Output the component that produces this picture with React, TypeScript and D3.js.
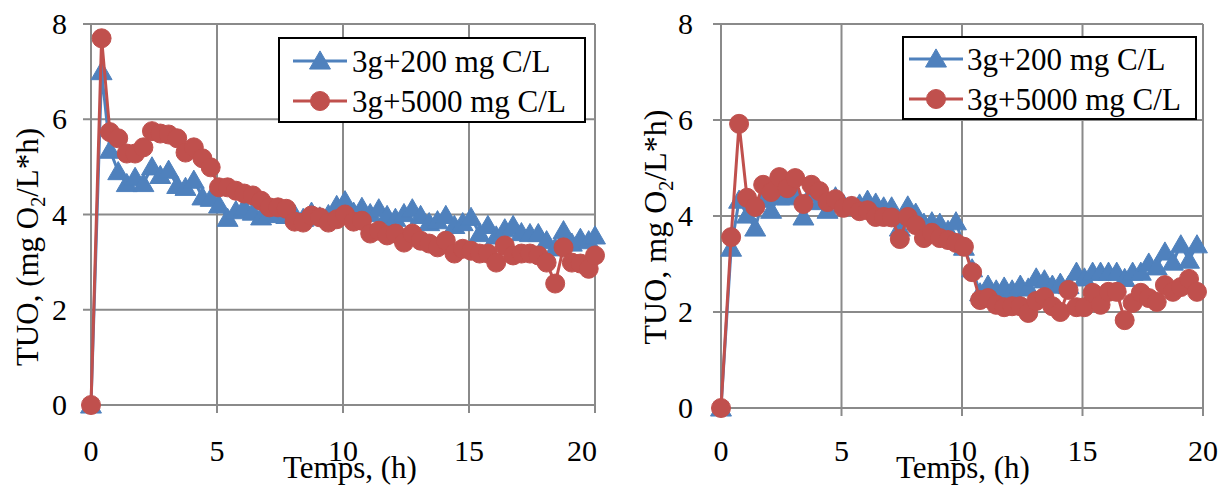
import React from "react";
import * as d3 from "d3";

// ---- Data ----
const seriesNames = ["3g+200 mg C/L", "3g+5000 mg C/L"];
const xTicks = [0, 5, 10, 15, 20];
const yTicks = [0, 2, 4, 6, 8];

const hoursLeft = [0, 0.42, 0.75, 1.08, 1.42, 1.75, 2.08, 2.42, 2.75, 3.08, 3.42, 3.75, 4.08, 4.42, 4.75, 5.08, 5.42, 5.75, 6.08, 6.42, 6.75, 7.08, 7.42, 7.75, 8.08, 8.42, 8.75, 9.08, 9.42, 9.75, 10.08, 10.42, 10.75, 11.08, 11.42, 11.75, 12.08, 12.42, 12.75, 13.08, 13.42, 13.75, 14.08, 14.42, 14.75, 15.08, 15.42, 15.75, 16.08, 16.42, 16.75, 17.08, 17.42, 17.75, 18.08, 18.42, 18.75, 19.08, 19.42, 19.75, 20.0];
const left200 = [0, 7.0, 5.35, 4.9, 4.65, 4.78, 4.65, 5.0, 4.82, 4.93, 4.61, 4.57, 4.72, 4.37, 4.34, 4.2, 3.92, 4.08, 4.15, 4.05, 3.95, 4.05, 4.0, 3.98, 4.0, 3.92, 4.05, 3.95, 4.0, 4.19, 4.29, 4.05, 4.15, 4.02, 4.12, 3.98, 3.92, 4.02, 4.12, 3.98, 3.83, 3.87, 3.98, 3.77, 3.83, 3.94, 3.6, 3.77, 3.55, 3.7, 3.77, 3.62, 3.6, 3.6, 3.45, 3.3, 3.66, 3.4, 3.5, 3.45, 3.55];
const left5000 = [0, 7.7, 5.73, 5.6, 5.28, 5.28, 5.41, 5.75, 5.7, 5.68, 5.6, 5.3, 5.41, 5.18, 4.99, 4.57, 4.57, 4.5, 4.44, 4.4, 4.29, 4.15, 4.15, 4.12, 3.85, 3.83, 3.98, 3.94, 3.83, 3.9, 4.0, 3.85, 3.87, 3.6, 3.66, 3.56, 3.6, 3.41, 3.6, 3.45, 3.39, 3.31, 3.45, 3.18, 3.28, 3.24, 3.18, 3.18, 2.99, 3.35, 3.14, 3.18, 3.18, 3.14, 2.99, 2.55, 3.31, 2.99, 2.97, 2.86, 3.14];

const hoursRight = [0, 0.42, 0.75, 1.08, 1.42, 1.75, 2.08, 2.42, 2.75, 3.08, 3.42, 3.75, 4.08, 4.42, 4.75, 5.08, 5.42, 5.75, 6.08, 6.42, 6.75, 7.08, 7.42, 7.75, 8.08, 8.42, 8.75, 9.08, 9.42, 9.75, 10.08, 10.42, 10.75, 11.08, 11.42, 11.75, 12.08, 12.42, 12.75, 13.08, 13.42, 13.75, 14.08, 14.42, 14.75, 15.08, 15.42, 15.75, 16.08, 16.42, 16.75, 17.08, 17.42, 17.75, 18.08, 18.42, 18.75, 19.08, 19.42, 19.75];
const right200 = [0, 3.33, 4.33, 4.02, 3.75, 4.35, 4.12, 4.4, 4.4, 4.45, 3.98, 4.48, 4.3, 4.12, 4.4, 4.25, 4.2, 4.25, 4.33, 4.27, 4.19, 4.19, 3.75, 4.21, 4.06, 3.85, 3.88, 3.85, 3.7, 3.88, 3.35, 2.9, 2.4, 2.56, 2.46, 2.52, 2.46, 2.56, 2.5, 2.71, 2.67, 2.56, 2.6, 2.55, 2.83, 2.71, 2.83, 2.83, 2.83, 2.83, 2.7, 2.83, 2.83, 3.02, 2.94, 3.25, 3.04, 3.4, 3.08, 3.4];
const right5000 = [0, 3.56, 5.92, 4.38, 4.19, 4.65, 4.5, 4.81, 4.58, 4.79, 4.25, 4.65, 4.52, 4.29, 4.35, 4.17, 4.21, 4.1, 4.12, 3.98, 3.98, 3.97, 3.52, 3.98, 3.81, 3.54, 3.65, 3.54, 3.5, 3.44, 3.36, 2.83, 2.25, 2.29, 2.15, 2.1, 2.12, 2.12, 1.98, 2.23, 2.31, 2.12, 2.0, 2.46, 2.1, 2.1, 2.4, 2.15, 2.42, 2.42, 1.83, 2.19, 2.4, 2.29, 2.21, 2.56, 2.42, 2.52, 2.69, 2.42];

// ---- Styles ----
const BLUE = "#4F81BD";
const RED = "#C0504D";
const GRID = "#8a8a8a";
const FONT = "'Liberation Serif', 'Times New Roman', serif";

type ChartProps = {
  x0: number; x1: number; y0: number; y1: number;
  hours: number[]; s200: number[]; s5000: number[];
  legend: { x: number; y: number; w: number; h: number; row1: number; row2: number; lx0: number; lx1: number; tx: number };
  yTitle: { pre: string; x: number; y: number; size: number };
  xTitle: { x: number; y: number };
  yLabelEnd: number;
  xLabelMaxRight: number;
};

const triangle = d3.symbol().type(d3.symbolTriangle).size(190);

function Chart(p: ChartProps) {
  const x = d3.scaleLinear().domain([0, 20]).range([p.x0, p.x1]);
  const y = d3.scaleLinear().domain([0, 8]).range([p.y0, p.y1]);
  const line = d3.line<[number, number]>().x(d => x(d[0])).y(d => y(d[1]));
  const d200: [number, number][] = p.hours.map((h, i) => [h, p.s200[i]]);
  const d5000: [number, number][] = p.hours.map((h, i) => [h, p.s5000[i]]);
  const L = p.legend;
  return (
    <g>
      {/* gridlines */}
      {yTicks.filter(t => t > 0).map(t => (
        <line key={"hy" + t} x1={x(0)} x2={x(20)} y1={y(t)} y2={y(t)} stroke={GRID} strokeWidth={2} />
      ))}
      {xTicks.filter(t => t > 0).map(t => (
        <line key={"vx" + t} x1={x(t)} x2={x(t)} y1={y(0)} y2={y(8)} stroke={GRID} strokeWidth={2} />
      ))}
      {/* axes */}
      <line x1={x(0)} x2={x(0)} y1={y(0)} y2={y(8)} stroke={GRID} strokeWidth={2} />
      <line x1={x(0)} x2={x(20)} y1={y(0)} y2={y(0)} stroke={GRID} strokeWidth={2} />
      {yTicks.map(t => (
        <line key={"ty" + t} x1={x(0) - 8} x2={x(0)} y1={y(t)} y2={y(t)} stroke={GRID} strokeWidth={2} />
      ))}
      {xTicks.map(t => (
        <line key={"tx" + t} x1={x(t)} x2={x(t)} y1={y(0)} y2={y(0) + 8} stroke={GRID} strokeWidth={2} />
      ))}
      {/* tick labels */}
      {yTicks.map(t => (
        <text key={"ly" + t} x={p.yLabelEnd} y={y(t) + 10} textAnchor="end" fontFamily={FONT} fontSize={30} fill="#000">{t}</text>
      ))}
      {xTicks.map(t => {
        const half = String(t).length * 7.5;
        const cx = Math.min(x(t), p.xLabelMaxRight - half);
        return (
          <text key={"lx" + t} x={cx} y={461} textAnchor="middle" fontFamily={FONT} fontSize={30} fill="#000">{t}</text>
        );
      })}
      {/* series 200 */}
      <path d={line(d200) || ""} fill="none" stroke={BLUE} strokeWidth={3} />
      {d200.map((d, i) => (
        <path key={"b" + i} d={triangle() || ""} transform={`translate(${x(d[0])},${y(d[1]) + 2})`} fill={BLUE} stroke={BLUE} strokeWidth={1} />
      ))}
      {/* series 5000 */}
      <path d={line(d5000) || ""} fill="none" stroke={RED} strokeWidth={3} />
      {d5000.map((d, i) => (
        <circle key={"r" + i} cx={x(d[0])} cy={y(d[1])} r={9.5} fill={RED} stroke={RED} strokeWidth={1} />
      ))}
      {/* axis titles */}
      <text transform={`translate(${p.yTitle.x},${p.yTitle.y}) rotate(-90)`} textAnchor="middle" fontFamily={FONT} fontSize={p.yTitle.size} fill="#000">
        <tspan>{p.yTitle.pre}</tspan>
        <tspan fontSize={20} dy={7}>2</tspan>
        <tspan dy={-7}>/L*h)</tspan>
      </text>
      <text x={p.xTitle.x} y={p.xTitle.y} textAnchor="middle" fontFamily={FONT} fontSize={31} fill="#000">Temps, (h)</text>
      {/* legend */}
      <rect x={L.x} y={L.y} width={L.w} height={L.h} fill="#fff" stroke="#000" strokeWidth={2} />
      <line x1={L.lx0} x2={L.lx1} y1={L.row1} y2={L.row1} stroke={BLUE} strokeWidth={3} />
      <path d={triangle() || ""} transform={`translate(${(L.lx0 + L.lx1) / 2},${L.row1 + 2})`} fill={BLUE} stroke={BLUE} />
      <text x={L.tx} y={L.row1 + 11} fontFamily={FONT} fontSize={31} fill="#000">{seriesNames[0]}</text>
      <line x1={L.lx0} x2={L.lx1} y1={L.row2} y2={L.row2} stroke={RED} strokeWidth={3} />
      <circle cx={(L.lx0 + L.lx1) / 2} cy={L.row2} r={9.5} fill={RED} stroke={RED} />
      <text x={L.tx} y={L.row2 + 11} fontFamily={FONT} fontSize={31} fill="#000">{seriesNames[1]}</text>
    </g>
  );
}

export default function App() {
  return (
    <svg width={1220} height={485} style={{ position: "absolute", left: 0, top: 0, background: "#fff" }}>
      <rect x={0} y={0} width={1220} height={485} fill="#fff" />
      <Chart
        x0={91} x1={595} y0={405} y1={24}
        hours={hoursLeft} s200={left200} s5000={left5000}
        legend={{ x: 279, y: 38, w: 306, h: 84, row1: 61, row2: 101, lx0: 293, lx1: 347, tx: 352 }}
        yTitle={{ pre: "TUO, (mg O", x: 38, y: 247, size: 31 }}
        xTitle={{ x: 350, y: 478 }}
        yLabelEnd={67}
        xLabelMaxRight={597}
      />
      <Chart
        x0={721} x1={1203} y0={408} y1={24}
        hours={hoursRight} s200={right200} s5000={right5000}
        legend={{ x: 903, y: 37, w: 293, h: 82, row1: 59, row2: 99, lx0: 909, lx1: 963, tx: 967 }}
        yTitle={{ pre: "TUO, mg O", x: 666, y: 227, size: 32 }}
        xTitle={{ x: 963, y: 478 }}
        yLabelEnd={693}
        xLabelMaxRight={1218}
      />
    </svg>
  );
}
